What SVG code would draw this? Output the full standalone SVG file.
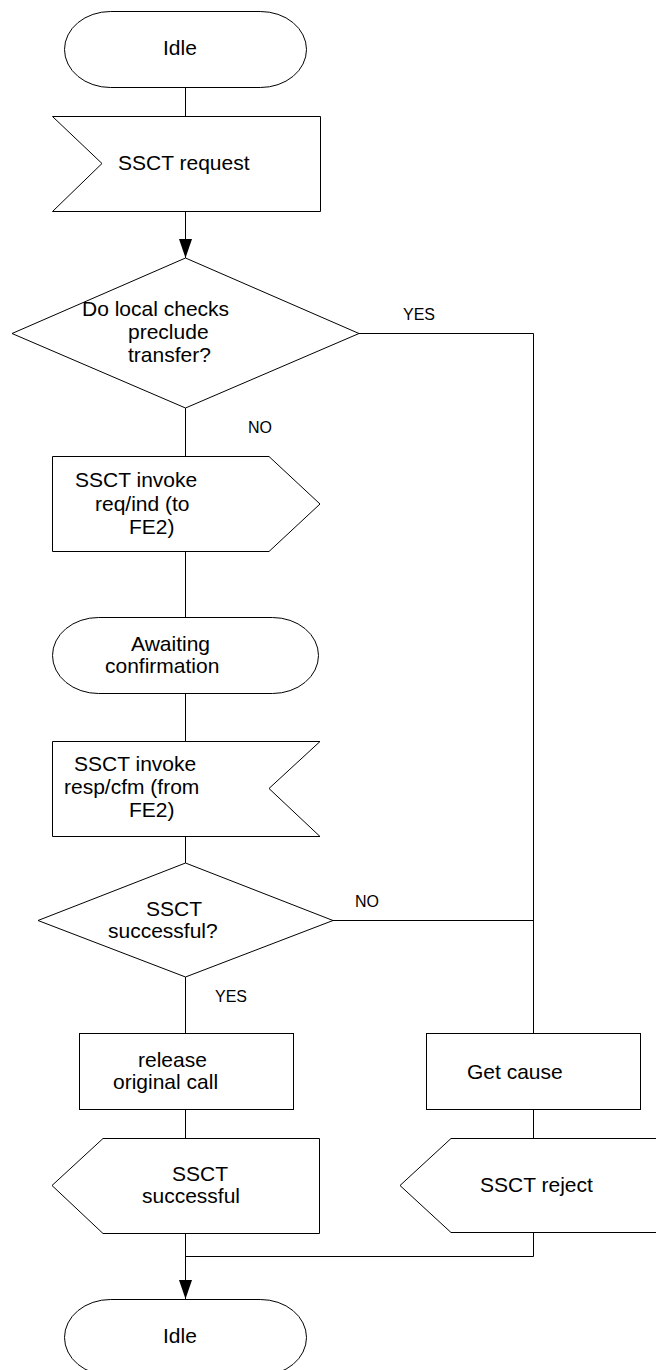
<svg xmlns="http://www.w3.org/2000/svg" width="656" height="1370" viewBox="0 0 656 1370">
<style>
.s{fill:#fff;stroke:#000;stroke-width:1}
.c{fill:none;stroke:#000;stroke-width:1}
.t{font-family:"Liberation Sans",Arial,sans-serif;font-size:21px;fill:#000}
.l{font-family:"Liberation Sans",Arial,sans-serif;font-size:16px;fill:#000}
</style>
<defs>
<marker id="arr" markerUnits="userSpaceOnUse" markerWidth="19" markerHeight="13" refX="19" refY="6.5" orient="auto">
<path d="M0,0 L19,6.5 L0,13 z" fill="#000"/>
</marker>
</defs>
<rect width="656" height="1370" fill="#fff"/>
<g id="connectors">
<line class="c" x1="185.5" y1="87" x2="185.5" y2="116"/>
<line class="c" x1="185.5" y1="211" x2="185.5" y2="258" marker-end="url(#arr)"/>
<line class="c" x1="185.5" y1="408" x2="185.5" y2="456"/>
<polyline class="c" points="359,333.5 533.5,333.5 533.5,1033"/>
<line class="c" x1="185.5" y1="551" x2="185.5" y2="617"/>
<line class="c" x1="185.5" y1="693" x2="185.5" y2="741"/>
<line class="c" x1="185.5" y1="836" x2="185.5" y2="863"/>
<line class="c" x1="333" y1="920.5" x2="533.5" y2="920.5"/>
<line class="c" x1="185.5" y1="977" x2="185.5" y2="1033"/>
<line class="c" x1="185.5" y1="1109" x2="185.5" y2="1138"/>
<line class="c" x1="533.5" y1="1109" x2="533.5" y2="1138"/>
<line class="c" x1="185.5" y1="1233" x2="185.5" y2="1299" marker-end="url(#arr)"/>
<polyline class="c" points="533.5,1232 533.5,1256.5 185.5,1256.5"/>
<text class="l" x="403" y="320">YES</text>
<text class="l" x="248" y="433">NO</text>
<text class="l" x="355" y="907">NO</text>
<text class="l" x="215" y="1002">YES</text>
</g>
<g id="idle_start">
<rect class="s" x="64.5" y="11.5" width="242" height="76" rx="46" ry="38"/>
<text class="t" x="163" y="55">Idle</text>
</g>
<g id="ssct_request">
<polygon class="s" points="52.5,116.5 320.5,116.5 320.5,211.5 52.5,211.5 102,163.5"/>
<text class="t" x="118" y="170">SSCT request</text>
</g>
<g id="local_checks">
<polygon class="s" points="185.5,258 359,333.5 185.5,408 12,333.5"/>
<text class="t" x="82" y="316">Do local checks</text>
<text class="t" x="128" y="339">preclude</text>
<text class="t" x="128" y="362">transfer?</text>
</g>
<g id="invoke_req">
<polygon class="s" points="52.5,456.5 269,456.5 320,504 269,551.5 52.5,551.5"/>
<text class="t" x="75" y="487">SSCT invoke</text>
<text class="t" x="95" y="511">req/ind (to</text>
<text class="t" x="129" y="534">FE2)</text>
</g>
<g id="awaiting">
<rect class="s" x="52.5" y="617.5" width="266" height="76" rx="46" ry="38"/>
<text class="t" x="131" y="651">Awaiting</text>
<text class="t" x="105" y="673">confirmation</text>
</g>
<g id="invoke_resp">
<polygon class="s" points="52.5,741.5 320,741.5 269,788.5 320,836.5 52.5,836.5"/>
<text class="t" x="74" y="771">SSCT invoke</text>
<text class="t" x="64" y="794">resp/cfm (from</text>
<text class="t" x="129" y="817">FE2)</text>
</g>
<g id="ssct_successful_q">
<polygon class="s" points="185.5,863 333,920.5 185.5,977 38,920.5"/>
<text class="t" x="146" y="916">SSCT</text>
<text class="t" x="108" y="938">successful?</text>
</g>
<g id="release">
<rect class="s" x="79.5" y="1033.5" width="214" height="76"/>
<text class="t" x="138" y="1067">release</text>
<text class="t" x="113" y="1089">original call</text>
</g>
<g id="get_cause">
<rect class="s" x="426.5" y="1033.5" width="214" height="76"/>
<text class="t" x="467" y="1079">Get cause</text>
</g>
<g id="ssct_successful">
<polygon class="s" points="52,1185.5 103,1138.5 319.5,1138.5 319.5,1233.5 103,1233.5"/>
<text class="t" x="172" y="1181">SSCT</text>
<text class="t" x="142" y="1203">successful</text>
</g>
<g id="ssct_reject">
<polygon class="s" points="400,1185.5 451,1138.5 670,1138.5 670,1232.5 451,1232.5"/>
<text class="t" x="480" y="1192">SSCT reject</text>
</g>
<g id="idle_end">
<rect class="s" x="64.5" y="1299.5" width="242" height="76" rx="46" ry="38"/>
<text class="t" x="163" y="1343">Idle</text>
</g>
</svg>
